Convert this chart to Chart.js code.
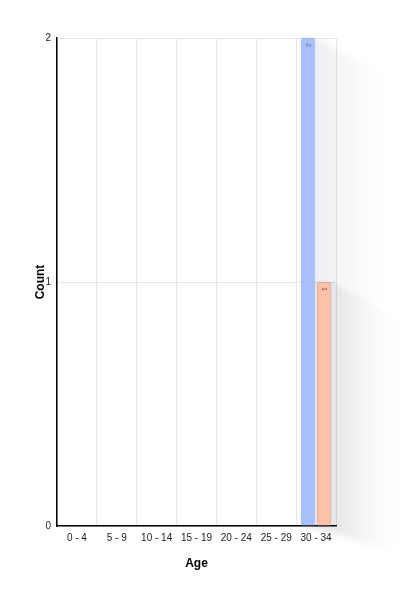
<!DOCTYPE html>
<html><head><meta charset="utf-8">
<script src="https://cdn.jsdelivr.net/npm/chart.js@4/dist/chart.umd.min.js"></script>
<style>html,body{margin:0;padding:0;background:#fff}#wrap{width:405px;height:601px}</style>
</head><body><div id="wrap"><canvas id="c" width="405" height="601"></canvas></div>
<script>
const categories = ['0 - 4','5 - 9','10 - 14','15 - 19','20 - 24','25 - 29','30 - 34'];
const seriesA = [0,0,0,0,0,0,2];
const seriesB = [0,0,0,0,0,0,1];
const yTicks = [0,1,2];

const shadowPlugin = {
  id:'longShadow',
  beforeDatasetsDraw(chart){
    const ctx = chart.ctx;
    const dx = 85, dy = 45;
    chart.data.datasets.forEach((ds,di)=>{
      const meta = chart.getDatasetMeta(di);
      meta.data.forEach((bar,i)=>{
        if(!ds.data[i]) return;
        const p = bar.getProps(['x','y','base','width'],true);
        const x1 = p.x - p.width/2, x2 = p.x + p.width/2, top = p.y, bot = p.base;
        ctx.save();
        ctx.filter = 'blur(2px)';
        const g = ctx.createLinearGradient(x2, 0, x2+70, 0);
        g.addColorStop(0, ds.shadowColor);
        g.addColorStop(0.4, ds.shadowMid);
        g.addColorStop(0.8, 'rgba(0,0,0,0.008)');
        g.addColorStop(1, 'rgba(0,0,0,0)');
        ctx.fillStyle = g;
        ctx.beginPath();
        ctx.moveTo(x1,top); ctx.lineTo(x2,top); ctx.lineTo(x2+dx,top+dy);
        ctx.lineTo(x2+dx,bot+dy*0.6); ctx.lineTo(x1+dx,bot+dy*0.6); ctx.lineTo(x1,bot);
        ctx.closePath(); ctx.fill();
        ctx.restore();
      });
    });
  },
  afterDatasetsDraw(chart){
    const ctx = chart.ctx;
    chart.data.datasets.forEach((ds,di)=>{
      const meta = chart.getDatasetMeta(di);
      meta.data.forEach((bar,i)=>{
        if(!ds.data[i]) return;
        const p = bar.getProps(['x','y'],true);
        ctx.save();
        ctx.translate(p.x, p.y+7);
        ctx.rotate(Math.PI/2);
        ctx.font = '7px "Liberation Sans", Arial, sans-serif';
        ctx.fillStyle = ds.labelColor;
        ctx.textAlign='center'; ctx.textBaseline='middle';
        ctx.fillText(String(ds.data[i]),0,0);
        ctx.restore();
      });
    });
  }
};

new Chart(document.getElementById('c'),{
  type:'bar',
  data:{labels:categories,datasets:[
    {label:'A',data:seriesA,backgroundColor:'#a9bff9',borderColor:'#a0b5f2',borderWidth:1,borderRadius:2,borderSkipped:'bottom',shadowColor:'rgba(60,70,110,0.09)',shadowMid:'rgba(60,70,110,0.045)',labelColor:'rgba(80,90,130,0.85)'},
    {label:'B',data:seriesB,backgroundColor:'#fdc1a9',borderColor:'#d5a898',borderWidth:1,borderRadius:2,borderSkipped:'bottom',shadowColor:'rgba(90,60,60,0.09)',shadowMid:'rgba(90,60,60,0.045)',labelColor:'rgba(110,70,60,0.85)'}
  ]},
  options:{
    responsive:false,animation:false,devicePixelRatio:1,
    layout:{padding:{left:0,right:69,top:38,bottom:0}},
    plugins:{legend:{display:false},tooltip:{enabled:false}},
    scales:{
      x:{
        grid:{color:'#e6e6e6',drawTicks:false,offset:true},
        border:{color:'#000',width:1.5},
        ticks:{color:'#222',padding:6,maxRotation:0,font:{family:'"Liberation Sans", Arial, sans-serif',size:10}},
        title:{display:true,text:'Age',color:'#000',font:{family:'"Liberation Sans", Arial, sans-serif',size:12,weight:'bold'},padding:{top:0,bottom:30}},
        afterFit(s){s.height=75;}
      },
      y:{
        min:0,max:2,
        afterBuildTicks(s){s.ticks=yTicks.map(v=>({value:v}));},
        grid:{color:'#e6e6e6',drawTicks:false},
        border:{color:'#000',width:1.5},
        ticks:{color:'#222',padding:6,font:{family:'"Liberation Sans", Arial, sans-serif',size:10}},
        title:{display:true,text:'Count',color:'#000',font:{family:'"Liberation Sans", Arial, sans-serif',size:12,weight:'bold'},padding:{top:33,bottom:0}},
        afterFit(s){s.width=57;}
      }
    }
  },
  plugins:[shadowPlugin]
});
</script></body></html>
